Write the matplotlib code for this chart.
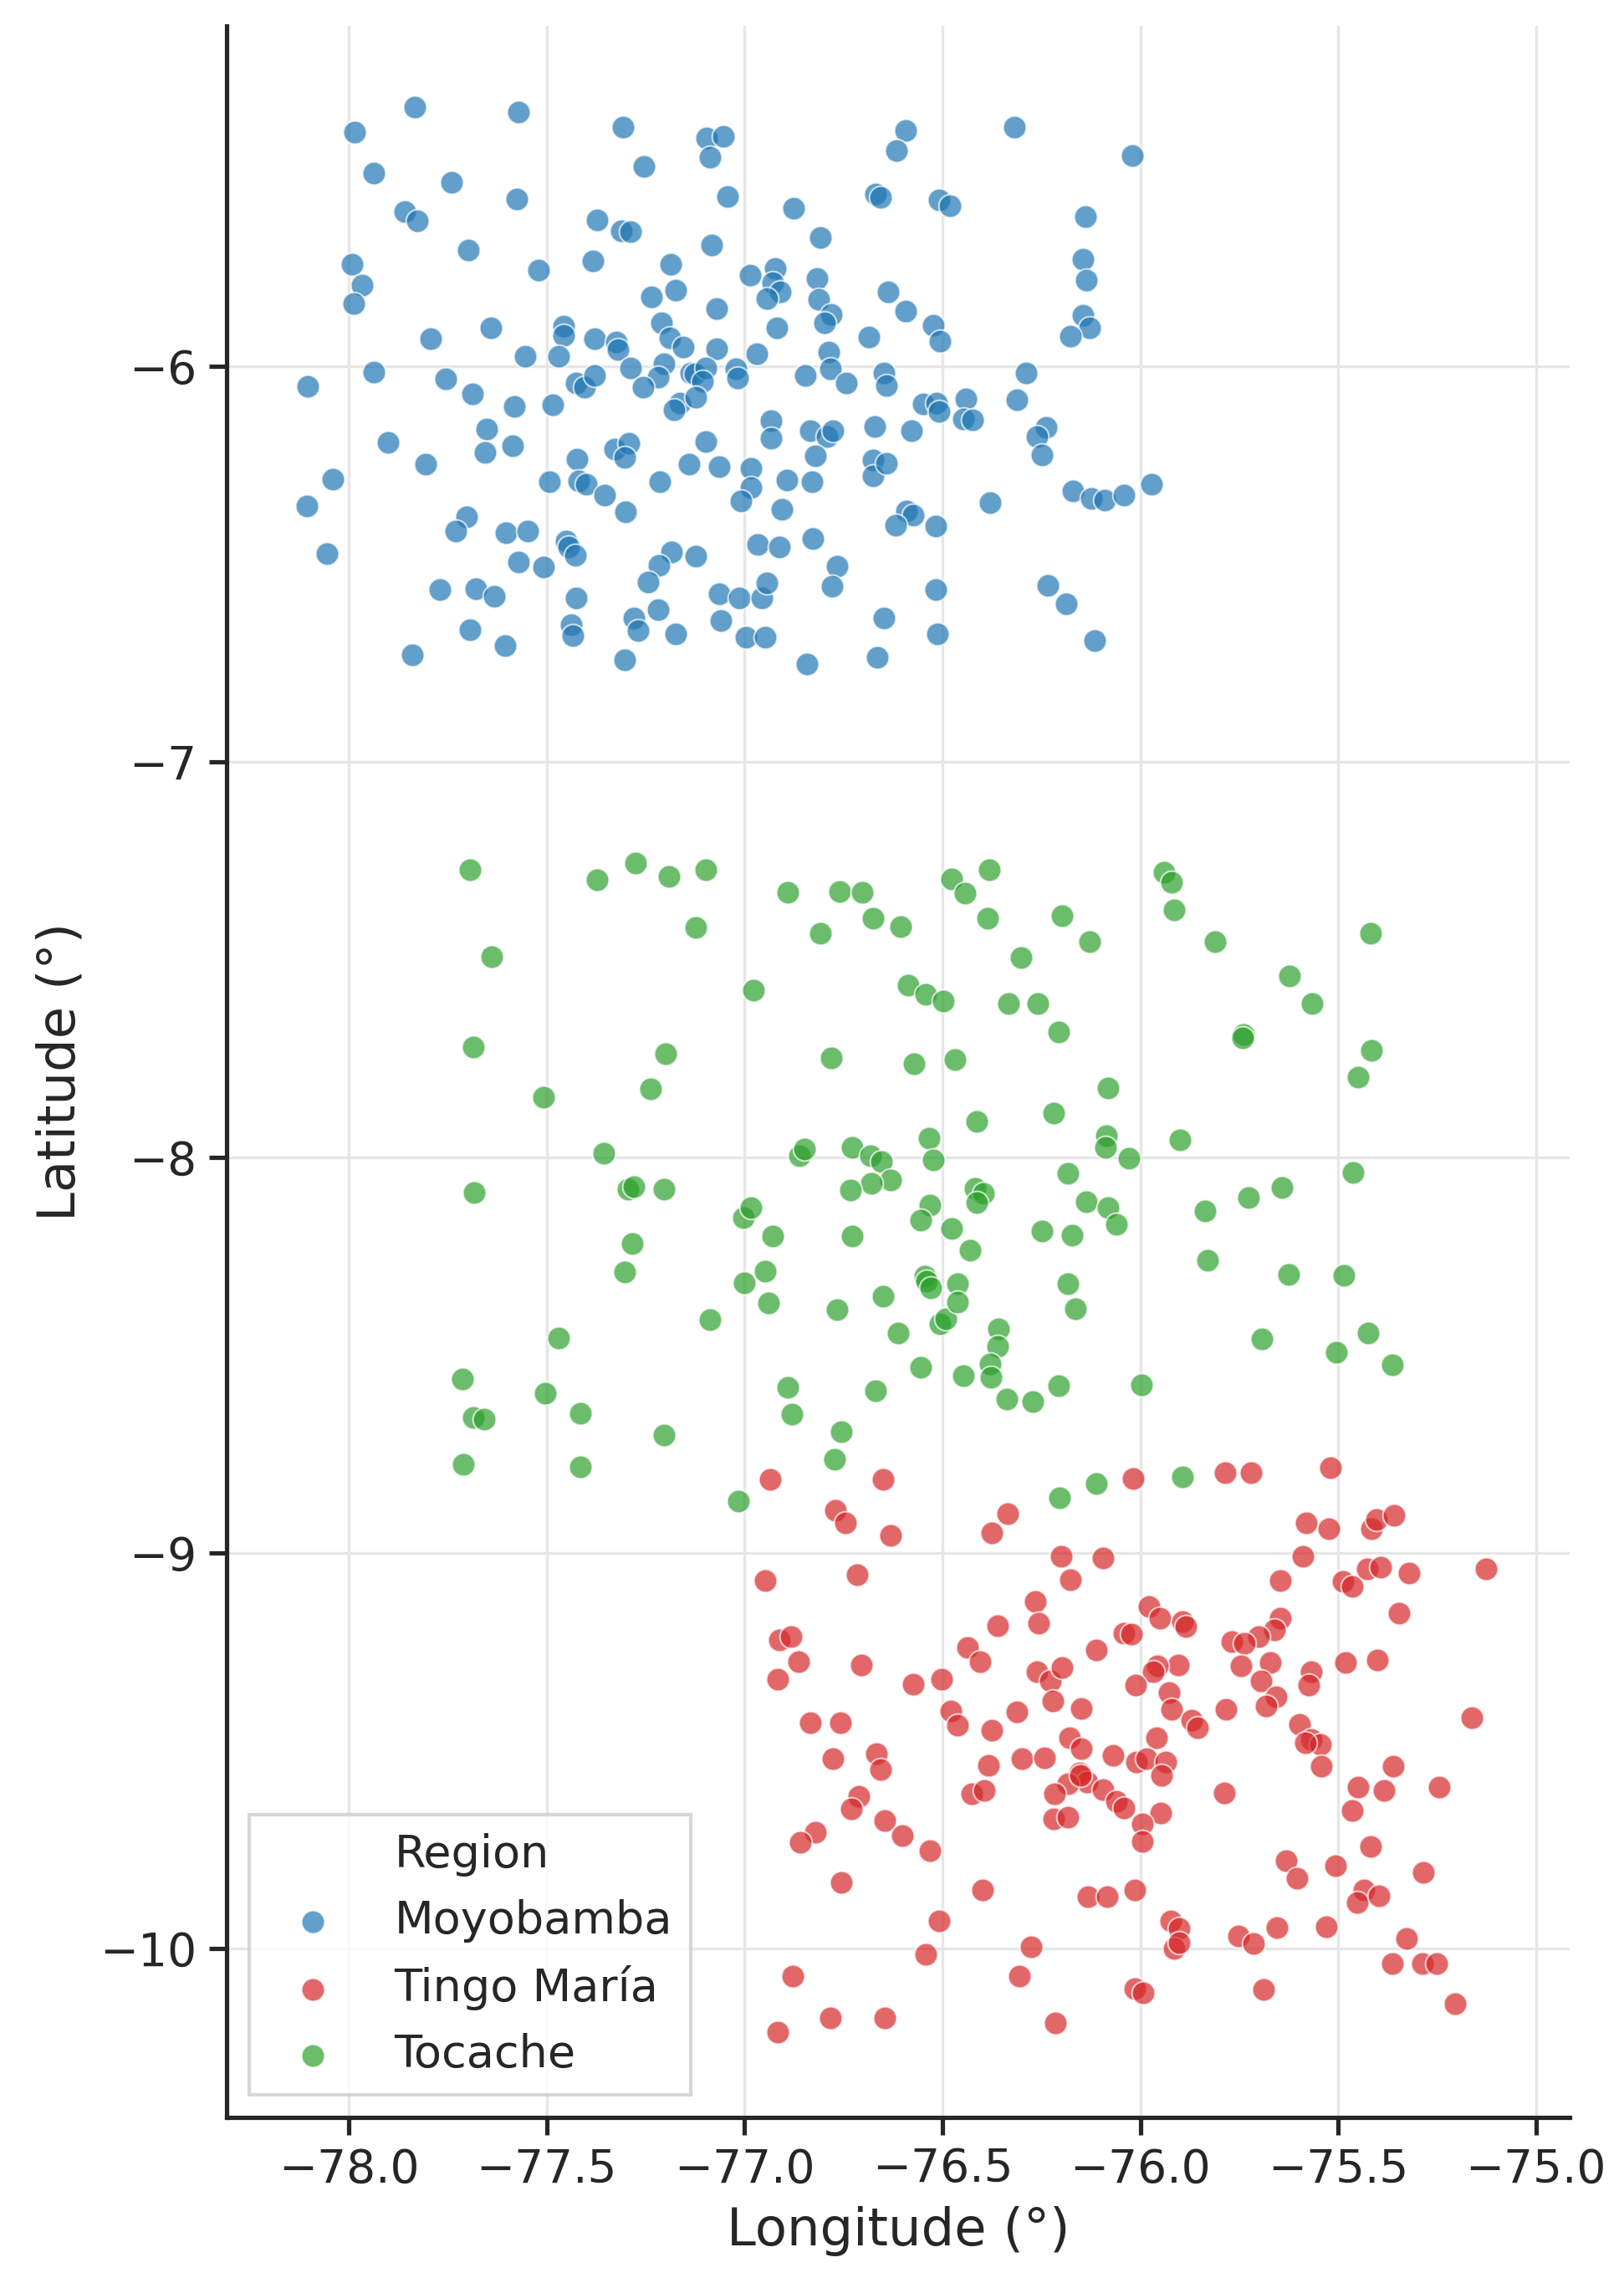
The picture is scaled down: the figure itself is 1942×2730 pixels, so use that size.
import matplotlib
matplotlib.use("Agg")
import matplotlib.pyplot as plt
from matplotlib.lines import Line2D
import seaborn as sns

# Moyobamba (blue)
moyo_lon = [-77.833, -77.572, -77.985, -77.307, -77.097, -77.053, -77.088, -77.254,
            -77.936, -77.740, -77.575, -77.043, -76.877, -76.670, -76.656, -77.858,
            -77.827, -77.372, -77.312, -77.288, -76.808, -77.698, -77.084, -77.992,
            -77.384, -77.520, -77.187, -76.986, -76.922, -76.929, -76.910, -76.943,
            -76.816, -76.813, -76.781, -76.799, -77.967, -77.988, -77.236, -77.175,
            -77.071, -77.642, -77.794, -77.457, -77.457, -77.210, -77.188, -77.156,
            -77.380, -77.324, -77.320, -77.554, -77.469, -77.070, -76.970, -76.919,
            -76.685, -76.787, -76.784, -77.203, -77.289, -77.218, -77.137, -77.126,
            -77.099, -77.107, -77.023, -77.018, -76.846, -76.742, -77.936, -78.105,
            -77.755, -77.688, -77.581, -77.485, -77.425, -77.405, -77.380, -77.257,
            -77.164, -77.178, -77.123, -76.934, -76.934, -76.834, -76.792, -76.777,
            -76.672, -77.901, -77.652, -77.655, -77.587, -77.807, -78.040, -78.107,
            -78.056, -77.423, -77.329, -77.293, -77.304, -77.098, -77.140, -77.065,
            -76.983, -76.983, -77.010, -76.894, -76.830, -76.821, -76.675, -76.675,
            -77.493, -77.420, -77.401, -77.354, -77.214, -77.302, -76.905, -77.703,
            -77.729, -77.603, -77.548, -77.450, -77.444, -77.428, -76.827, -76.967,
            -76.913, -76.767, -76.779, -77.572, -77.509, -77.184, -77.216, -77.243,
            -77.123, -77.770, -77.680, -77.632, -77.426, -77.065, -77.013, -76.956,
            -76.943, -77.218, -77.280, -77.270, -77.695, -77.438, -77.434, -77.174,
            -77.061, -76.997, -76.948, -77.606, -77.839, -77.304, -76.843, -76.665,
            -76.593, -76.617, -76.318, -76.020, -76.508, -76.482, -76.139, -76.144,
            -76.137, -76.637, -76.592, -76.523, -76.506, -76.144, -76.128, -76.176,
            -76.647, -76.642, -76.288, -76.549, -76.515, -76.508, -76.441, -76.448,
            -76.424, -76.311, -76.578, -76.238, -76.262, -76.249, -76.642, -76.170,
            -76.124, -76.090, -76.041, -75.972, -76.380, -76.590, -76.575, -76.618,
            -76.516, -76.516, -76.234, -76.187, -76.647, -76.513, -76.115]
moyo_lat = [-5.345, -5.357, -5.408, -5.395, -5.423, -5.418, -5.472, -5.496,
            -5.512, -5.536, -5.578, -5.572, -5.600, -5.565, -5.573, -5.610,
            -5.633, -5.630, -5.658, -5.660, -5.675, -5.706, -5.694, -5.742,
            -5.734, -5.757, -5.742, -5.771, -5.752, -5.790, -5.812, -5.830,
            -5.778, -5.832, -5.869, -5.891, -5.796, -5.842, -5.824, -5.808,
            -5.854, -5.903, -5.930, -5.899, -5.923, -5.891, -5.928, -5.951,
            -5.931, -5.939, -5.958, -5.975, -5.975, -5.955, -5.969, -5.903,
            -5.927, -5.965, -6.007, -5.994, -6.005, -6.027, -6.018, -6.020,
            -6.004, -6.038, -6.007, -6.030, -6.024, -6.042, -6.015, -6.052,
            -6.033, -6.071, -6.101, -6.098, -6.042, -6.053, -6.024, -6.053,
            -6.093, -6.110, -6.078, -6.137, -6.182, -6.164, -6.179, -6.164,
            -6.152, -6.192, -6.159, -6.219, -6.201, -6.247, -6.285, -6.353,
            -6.474, -6.235, -6.209, -6.194, -6.230, -6.191, -6.247, -6.255,
            -6.258, -6.307, -6.341, -6.288, -6.292, -6.227, -6.238, -6.277,
            -6.292, -6.290, -6.298, -6.325, -6.292, -6.368, -6.361, -6.381,
            -6.417, -6.420, -6.417, -6.442, -6.457, -6.479, -6.435, -6.450,
            -6.457, -6.505, -6.557, -6.495, -6.508, -6.470, -6.503, -6.545,
            -6.480, -6.565, -6.563, -6.581, -6.586, -6.575, -6.585, -6.585,
            -6.548, -6.615, -6.636, -6.669, -6.666, -6.654, -6.681, -6.677,
            -6.642, -6.685, -6.685, -6.706, -6.730, -6.742, -6.754, -6.736,
            -5.405, -5.454, -5.395, -5.468, -5.580, -5.594, -5.622, -5.730,
            -5.782, -5.812, -5.860, -5.896, -5.936, -5.871, -5.904, -5.924,
            -6.017, -6.048, -6.018, -6.095, -6.093, -6.115, -6.082, -6.133,
            -6.135, -6.085, -6.164, -6.154, -6.179, -6.224, -6.245, -6.315,
            -6.334, -6.338, -6.326, -6.298, -6.346, -6.366, -6.376, -6.401,
            -6.404, -6.564, -6.554, -6.600, -6.636, -6.677, -6.693]

# Tingo María (red)
tingo_lon = [-76.935, -76.650, -76.018, -75.785, -75.721, -75.520, -76.770, -76.746,
             -76.630, -76.335, -76.375, -76.949, -76.715, -76.199, -76.095, -76.176,
             -76.265, -76.256, -76.360, -76.913, -76.883, -76.864, -76.916, -76.706,
             -76.437, -76.405, -76.261, -76.227, -76.197, -76.111, -76.573, -76.502,
             -76.220, -76.150, -76.311, -76.478, -76.461, -76.375, -76.834, -76.758,
             -76.776, -76.666, -76.657, -76.178, -76.149, -76.300, -76.243, -76.068,
             -76.384, -76.425, -76.395, -76.154, -76.134, -76.183, -76.217, -76.152,
             -76.094, -76.060, -76.219, -76.182, -76.712, -76.731, -76.645, -76.601,
             -76.532, -76.822, -76.860, -76.756, -76.399, -76.132, -76.083, -76.508,
             -76.543, -76.275, -76.305, -76.879, -76.783, -76.645, -76.917, -76.214,
             -75.580, -75.523, -75.415, -75.403, -75.359, -75.590, -75.647, -75.487,
             -75.464, -75.427, -75.392, -75.321, -75.126, -75.346, -75.979, -75.951,
             -75.893, -75.884, -76.041, -76.023, -75.646, -75.660, -75.702, -75.769,
             -75.738, -75.672, -75.745, -75.695, -75.657, -75.683, -75.784, -75.903,
             -75.956, -75.967, -76.011, -75.927, -75.921, -75.870, -75.856, -75.960,
             -75.568, -75.575, -75.482, -75.401, -75.598, -75.568, -75.544, -75.582,
             -75.543, -75.163, -76.009, -75.984, -75.935, -75.946, -76.041, -75.949,
             -75.995, -75.994, -75.787, -75.360, -75.450, -75.385, -75.464, -75.245,
             -75.418, -75.285, -75.632, -75.604, -75.506, -75.434, -75.452, -75.396,
             -76.013, -75.923, -75.901, -75.914, -75.901, -75.752, -75.713, -75.655,
             -75.531, -75.327, -75.364, -75.286, -75.251, -75.205, -75.688, -76.014,
             -75.992]
tingo_lat = [-8.813, -8.813, -8.811, -8.797, -8.797, -8.784, -8.892, -8.925,
             -8.955, -8.900, -8.949, -9.070, -9.055, -9.009, -9.012, -9.067,
             -9.123, -9.177, -9.183, -9.219, -9.211, -9.275, -9.320, -9.283,
             -9.239, -9.275, -9.301, -9.323, -9.289, -9.246, -9.333, -9.319,
             -9.375, -9.393, -9.402, -9.400, -9.435, -9.448, -9.429, -9.429,
             -9.521, -9.508, -9.548, -9.467, -9.494, -9.521, -9.517, -9.512,
             -9.537, -9.609, -9.600, -9.557, -9.580, -9.584, -9.609, -9.563,
             -9.598, -9.628, -9.672, -9.669, -9.616, -9.646, -9.676, -9.715,
             -9.752, -9.706, -9.731, -9.834, -9.852, -9.869, -9.869, -9.931,
             -10.014, -9.995, -10.069, -10.069, -10.176, -10.176, -10.212, -10.188,
             -8.923, -8.938, -8.938, -8.915, -8.904, -9.009, -9.070, -9.072,
             -9.084, -9.041, -9.035, -9.051, -9.040, -9.153, -9.136, -9.165,
             -9.173, -9.187, -9.203, -9.205, -9.164, -9.194, -9.212, -9.225,
             -9.228, -9.277, -9.285, -9.323, -9.363, -9.387, -9.396, -9.283,
             -9.286, -9.300, -9.335, -9.354, -9.396, -9.423, -9.442, -9.467,
             -9.301, -9.334, -9.277, -9.271, -9.433, -9.472, -9.485, -9.481,
             -9.540, -9.416, -9.528, -9.520, -9.528, -9.563, -9.644, -9.658,
             -9.685, -9.729, -9.606, -9.539, -9.591, -9.600, -9.652, -9.591,
             -9.743, -9.807, -9.777, -9.823, -9.791, -9.853, -9.883, -9.867,
             -9.853, -9.931, -9.949, -10.000, -9.986, -9.968, -9.988, -9.948,
             -9.945, -9.974, -10.037, -10.037, -10.037, -10.140, -10.104, -10.101,
             -10.113]

# Tocache (green)
toca_lon = [-77.694, -77.373, -77.276, -77.192, -77.099, -77.124, -77.640, -76.890,
            -76.760, -76.702, -76.675, -76.605, -76.808, -76.477, -76.977, -76.586,
            -76.543, -76.498, -77.686, -77.200, -77.237, -77.509, -76.781, -76.571,
            -77.356, -76.862, -76.848, -76.729, -76.682, -76.654, -76.534, -76.524,
            -76.632, -76.680, -76.732, -77.683, -77.295, -77.279, -77.203, -77.003,
            -76.985, -76.929, -76.728, -76.531, -76.554, -76.477, -77.285, -77.303,
            -77.000, -76.948, -76.939, -77.088, -76.766, -76.650, -76.545, -76.541,
            -76.529, -76.507, -76.492, -76.611, -76.554, -77.470, -77.713, -77.504,
            -77.685, -77.659, -77.415, -77.203, -77.710, -77.415, -76.890, -76.881,
            -76.669, -76.756, -76.772, -77.015,
            -76.382, -76.443, -76.386, -76.197, -76.127, -76.301, -75.941, -75.920,
            -75.914, -75.811, -75.419, -75.624, -75.565, -75.740, -75.742, -76.334,
            -76.260, -76.207, -76.468, -75.416, -75.449, -76.081, -76.414, -76.219,
            -76.085, -76.087, -76.028, -75.900, -75.462, -76.182, -76.417, -76.396,
            -76.414, -76.137, -76.082, -76.061, -75.727, -75.642, -75.836, -76.249,
            -76.173, -76.431, -75.830, -75.625, -75.486, -76.462, -76.462, -76.182,
            -76.164, -76.358, -76.361, -76.379, -76.377, -76.447, -76.337, -76.271,
            -76.207, -75.996, -75.693, -75.425, -75.505, -75.362, -76.205, -76.112,
            -75.893]
toca_lat = [-7.274, -7.299, -7.257, -7.289, -7.272, -7.419, -7.493, -7.330,
            -7.327, -7.330, -7.396, -7.417, -7.433, -7.296, -7.578, -7.564,
            -7.589, -7.605, -7.722, -7.737, -7.827, -7.849, -7.749, -7.763,
            -7.989, -7.996, -7.980, -7.974, -7.997, -8.010, -7.951, -8.006,
            -8.057, -8.065, -8.083, -8.088, -8.080, -8.074, -8.080, -8.152,
            -8.128, -8.198, -8.198, -8.120, -8.159, -8.180, -8.217, -8.290,
            -8.317, -8.287, -8.368, -8.411, -8.384, -8.352, -8.301, -8.314,
            -8.331, -8.420, -8.409, -8.444, -8.530, -8.456, -8.560, -8.597,
            -8.657, -8.662, -8.648, -8.702, -8.776, -8.782, -8.581, -8.649,
            -8.590, -8.694, -8.763, -8.870,
            -7.272, -7.332, -7.396, -7.389, -7.454, -7.496, -7.279, -7.305,
            -7.375, -7.454, -7.433, -7.542, -7.612, -7.689, -7.697, -7.612,
            -7.612, -7.683, -7.752, -7.730, -7.797, -7.824, -7.909, -7.889,
            -7.945, -7.975, -8.003, -7.956, -8.038, -8.041, -8.078, -8.092,
            -8.114, -8.112, -8.128, -8.169, -8.101, -8.077, -8.135, -8.187,
            -8.196, -8.234, -8.260, -8.296, -8.298, -8.319, -8.366, -8.320,
            -8.382, -8.434, -8.478, -8.522, -8.557, -8.551, -8.612, -8.617,
            -8.578, -8.576, -8.458, -8.444, -8.493, -8.524, -8.860, -8.824,
            -8.808]

regions = ["Moyobamba", "Tingo María", "Tocache"]
colors = ["tab:blue", "tab:red", "tab:green"]

sns.set_theme(style="ticks", font_scale=1.2)
plt.rcParams["font.family"] = ["DejaVu Sans"]

fig = plt.figure(figsize=(1942 / 300, 2730 / 300), dpi=300)
ax = fig.add_axes([271 / 1942, 1 - 2532 / 2730, 1606 / 1942, 2501 / 2730])

series = [(moyo_lon, moyo_lat), (tingo_lon, tingo_lat), (toca_lon, toca_lat)]
for (lon, lat), name, c in zip(series, regions, colors):
    ax.scatter(lon, lat, s=44, color=c, alpha=0.7, edgecolor="white",
               linewidth=0.5, label=name, zorder=3)

ax.set_xlim(-78.309, -74.915)
ax.set_ylim(-10.427, -5.140)
ax.set_xticks([-78.0, -77.5, -77.0, -76.5, -76.0, -75.5, -75.0])
ax.set_yticks([-10, -9, -8, -7, -6])
ax.grid(True, color="#e6e6e6", linewidth=0.8, zorder=0)
ax.set_axisbelow(True)
ax.tick_params(length=5, width=1.25)
ax.set_xlabel("Longitude (°)", fontsize=15)
ax.set_ylabel("Latitude (°)", fontsize=15)
sns.despine(ax=ax)

handles, labels = ax.get_legend_handles_labels()
title_handle = Line2D([], [], linestyle="none", marker=None)
ax.legend([title_handle] + handles, ["Region"] + labels, loc="lower left",
          fancybox=False, edgecolor="#cccccc", fontsize=13)

fig.savefig("out.png", dpi=300)
